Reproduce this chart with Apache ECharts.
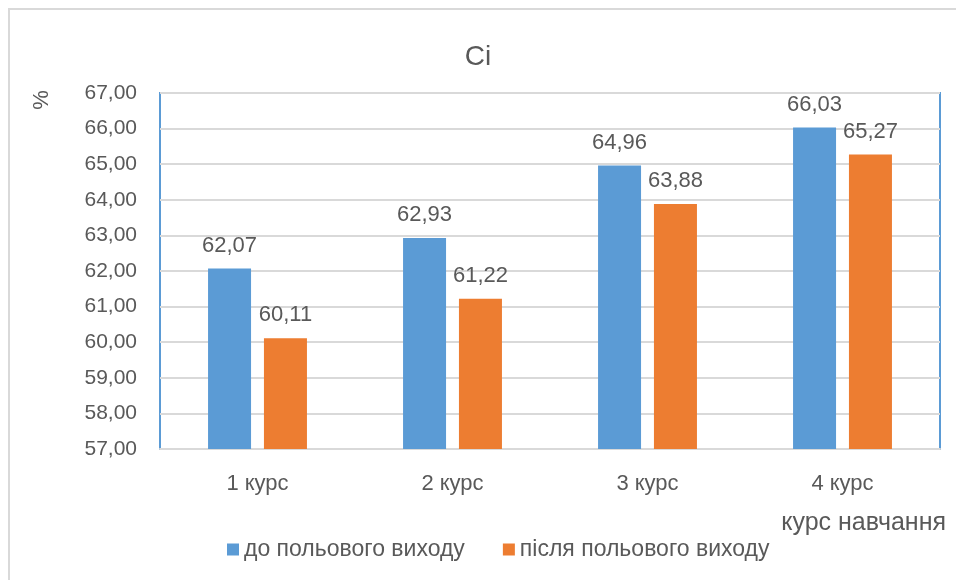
<!DOCTYPE html>
<html>
<head>
<meta charset="utf-8">
<script src="https://cdn.jsdelivr.net/npm/echarts@6/dist/echarts.min.js"></script>
<style>
  html, body { margin: 0; padding: 0; background: #fff; }
  #chart { width: 956px; height: 580px; }
</style>
</head>
<body>
<div id="chart"></div>
<script>
const categories = ['1 курс', '2 курс', '3 курс', '4 курс'];
const beforeValues = [62.07, 62.93, 64.96, 66.03];
const afterValues = [60.11, 61.22, 63.88, 65.27];
const seriesNames = ['до польового виходу', 'після польового виходу'];
const yMin = 57, yMax = 67, yStep = 1;

const FONT = '"Liberation Sans", Arial, sans-serif';
const TXT = '#595959';
const fmt = v => v.toFixed(2).replace('.', ',');

const chart = echarts.init(document.getElementById('chart'), null, { renderer: 'canvas' });

const labelStyle = {
  show: true,
  position: 'top',
  distance: 12,
  color: TXT,
  fontFamily: FONT,
  fontSize: 22,
  formatter: p => fmt(p.value)
};

chart.setOption({
  animation: false,
  backgroundColor: '#fff',
  title: {
    text: 'Ci',
    left: 'center',
    top: 38,
    textStyle: { color: TXT, fontFamily: FONT, fontSize: 28, fontWeight: 'normal' }
  },
  graphic: [
    {
      type: 'rect',
      shape: { x: 9, y: 9, width: 980, height: 600 },
      style: { fill: 'none', stroke: '#d9d9d9', lineWidth: 2 },
      silent: true
    },
    {
      type: 'text',
      x: 42, y: 100,
      rotation: Math.PI / 2,
      style: { text: '%', fill: TXT, font: '22px ' + FONT, align: 'center', verticalAlign: 'middle' }
    },
    {
      type: 'text',
      x: 946, y: 523,
      style: { text: 'курс навчання', fill: TXT, font: '25px ' + FONT, align: 'right', verticalAlign: 'middle' }
    }
  ],
  legend: {
    bottom: 14,
    left: 222,
    itemWidth: 12,
    itemHeight: 12,
    itemGap: 38,
    icon: 'rect',
    textStyle: { color: TXT, fontFamily: FONT, fontSize: 23 },
    data: seriesNames
  },
  grid: {
    left: 160, right: 16, top: 93, bottom: 131,
    show: true,
    borderColor: '#5b9bd5',
    borderWidth: 2,
    containLabel: false
  },
  xAxis: {
    type: 'category',
    data: categories,
    axisLine: { lineStyle: { color: '#d9d9d9', width: 2 } },
    axisTick: { show: false },
    axisLabel: { color: TXT, fontFamily: FONT, fontSize: 22, margin: 24 }
  },
  yAxis: {
    type: 'value',
    min: yMin, max: yMax, interval: yStep,
    axisLine: { show: false },
    axisTick: { show: false },
    splitLine: { lineStyle: { color: '#d9d9d9', width: 2 } },
    axisLabel: { color: TXT, fontFamily: FONT, fontSize: 21, margin: 23, formatter: v => fmt(v) }
  },
  series: [
    {
      name: seriesNames[0],
      type: 'bar',
      data: beforeValues,
      barWidth: 43,
      barGap: '30%',
      itemStyle: { color: '#5b9bd5' },
      label: labelStyle
    },
    {
      name: seriesNames[1],
      type: 'bar',
      data: afterValues,
      barWidth: 43,
      itemStyle: { color: '#ed7d31' },
      label: labelStyle
    }
  ]
});
</script>
</body>
</html>
